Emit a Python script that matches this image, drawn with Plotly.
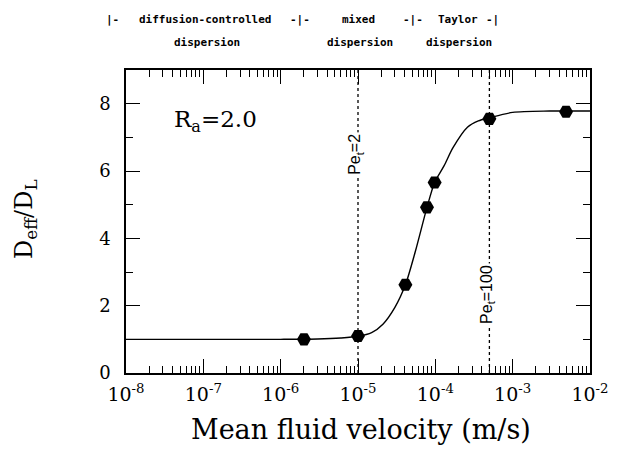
import math
import plotly.graph_objects as go

# ---- data ----
marker_x = [2e-6, 1e-5, 4.1e-5, 7.8e-5, 9.8e-5, 5e-4, 4.9e-3]
marker_y = [1.0, 1.1, 2.62, 4.92, 5.66, 7.55, 7.76]

curve_x = [1e-8, 1e-7, 1e-6, 3e-6, 6e-6, 1e-5, 1.5e-5, 2.1e-5, 3e-5, 4.1e-5,
           5.5e-5, 7.8e-5, 9.8e-5, 1.3e-4, 1.7e-4, 2.6e-4, 3.6e-4, 5e-4,
           1e-3, 3e-3, 1e-2]
curve_y = [1.0, 1.0, 1.0, 1.01, 1.04, 1.09, 1.2, 1.45, 1.95, 2.62,
           3.6, 4.92, 5.66, 6.16, 6.7, 7.3, 7.49, 7.58,
           7.74, 7.78, 7.78]

pe_lines_x = [1e-5, 5e-4]
pe_labels = ["Pe<sub>t</sub>=2", "Pe<sub>t</sub>=100"]
pe_label_y = [6.48, 2.33]

y_range = [0, 9]
x_range_exp = [-8, -2]
x_tickvals = [1e-8, 1e-7, 1e-6, 1e-5, 1e-4, 1e-3, 1e-2]
x_ticktext = ["10<sup>-8</sup>", "10<sup>-7</sup>", "10<sup>-6</sup>", "10<sup>-5</sup>",
              "10<sup>-4</sup>", "10<sup>-3</sup>", "10<sup>-2</sup>"]

top_row1 = ["|-", "diffusion-controlled", "-|-", "mixed", "-|-", "Taylor", "-|"]
top_row1_px = [112, 205, 300, 358, 413, 458, 492]
top_row2 = ["dispersion", "dispersion", "dispersion"]
top_row2_px = [207, 360, 459]

# page has an 8px body margin; size the figure so the plot lands where the reference has it
OFF = 8
W, H = 617 - OFF, 449 - OFF
PL, PR, PT, PB = 126, 590, 70, 373          # plot area in screen pixels
ML, MT = PL - OFF, PT - OFF
MR = W - (PR - OFF)
MB = H - (PB - OFF)
PW = PR - PL
PH = PB - PT


def px_x(px):
    return (px - PL) / PW


def px_y(py):
    return (PB - py) / PH


fig = go.Figure()

fig.add_trace(go.Scatter(x=curve_x, y=curve_y, mode="lines",
                         line=dict(color="black", width=1.4, shape="spline", smoothing=0.8),
                         hoverinfo="skip", showlegend=False))

for xv in pe_lines_x:
    fig.add_trace(go.Scatter(x=[xv, xv], y=y_range, mode="lines",
                             line=dict(color="black", width=1.3, dash="dot"),
                             hoverinfo="skip", showlegend=False))

fig.add_trace(go.Scatter(x=marker_x, y=marker_y, mode="markers",
                         marker=dict(symbol="hexagon2", size=14, color="black",
                                     line=dict(width=0)),
                         showlegend=False))

serif = "DejaVu Serif"
axis_common = dict(showline=True, linecolor="black", linewidth=1.6, mirror="allticks",
                   ticks="inside", ticklen=14, tickwidth=1.2, tickcolor="black",
                   showgrid=False, zeroline=False, automargin=False)

fig.update_xaxes(type="log", range=x_range_exp, tickvals=x_tickvals, ticktext=x_ticktext,
                 ticklabelstandoff=3,
                 tickfont=dict(family=serif, size=19, color="black"),
                 minor=dict(ticks="inside", ticklen=7, tickwidth=1, tickcolor="black",
                            dtick="D1", showgrid=False),
                 **axis_common)
fig.update_yaxes(range=y_range, dtick=2, ticklabelstandoff=10,
                 tickfont=dict(family=serif, size=18, color="black"),
                 minor=dict(ticks="inside", ticklen=7, tickwidth=1, tickcolor="black",
                            dtick=1, showgrid=False),
                 **axis_common)

annotations = []
for txt, yv, xv in zip(pe_labels, pe_label_y, pe_lines_x):
    annotations.append(dict(x=math.log10(xv), y=yv, xref="x", yref="y", text=txt,
                            textangle=-90, showarrow=False, bgcolor="white",
                            xshift=-2,
                            font=dict(family="Liberation Sans", size=16, color="black")))

annotations.append(dict(x=px_x(172), y=px_y(121), xref="paper", yref="paper",
                        text="R<sub>a</sub>=2.0", showarrow=False, xanchor="left",
                        yanchor="middle",
                        font=dict(family=serif, size=23, color="black")))

# axis titles
annotations.append(dict(x=px_x(361), y=px_y(429), xref="paper", yref="paper",
                        text="Mean fluid velocity (m/s)", showarrow=False,
                        xanchor="center", yanchor="middle",
                        font=dict(family=serif, size=27, color="black")))
annotations.append(dict(x=px_x(25), y=px_y(219), xref="paper", yref="paper",
                        text="D<sub>eff</sub>/D<sub>L</sub>", showarrow=False,
                        textangle=-90, xanchor="center", yanchor="middle",
                        font=dict(family=serif, size=24, color="black")))

mono = "DejaVu Sans Mono"
for txt, px in zip(top_row1, top_row1_px):
    annotations.append(dict(x=px_x(px), y=px_y(19), xref="paper", yref="paper",
                            xanchor="center", yanchor="middle",
                            text="<b>" + txt + "</b>", showarrow=False,
                            font=dict(family=mono, size=11, color="black")))
for txt, px in zip(top_row2, top_row2_px):
    annotations.append(dict(x=px_x(px), y=px_y(42), xref="paper", yref="paper",
                            xanchor="center", yanchor="middle",
                            text="<b>" + txt + "</b>", showarrow=False,
                            font=dict(family=mono, size=11, color="black")))

fig.update_layout(width=W, height=H, margin=dict(l=ML, r=MR, t=MT, b=MB),
                  plot_bgcolor="white", paper_bgcolor="white",
                  annotations=annotations, showlegend=False)

fig.write_html("out.html")
